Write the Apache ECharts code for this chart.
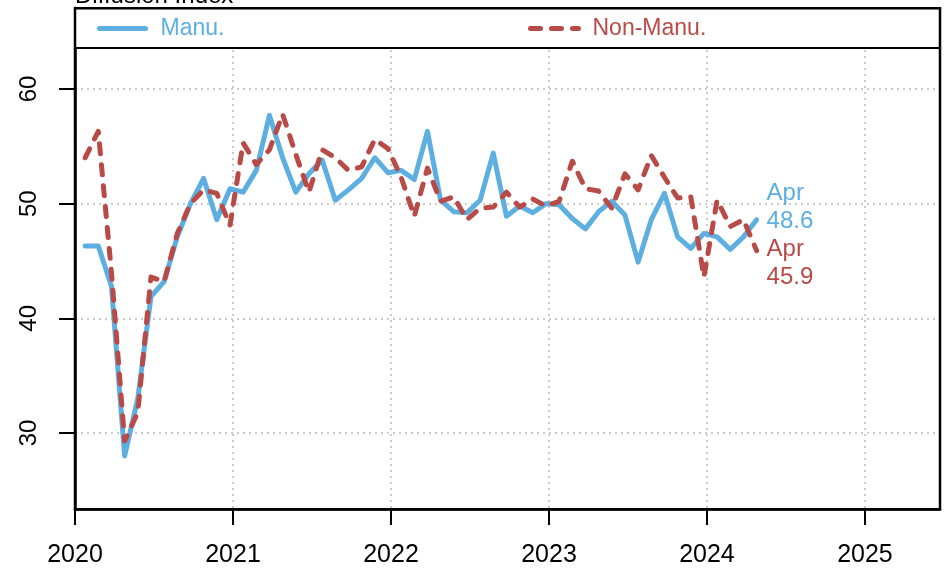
<!DOCTYPE html>
<html>
<head>
<meta charset="utf-8">
<script src="https://cdn.jsdelivr.net/npm/echarts@6/dist/echarts.min.js"></script>
<style>
    html, body { margin: 0; padding: 0; background: #fff; }
    #chart { width: 947px; height: 574px; }
</style>
</head>
<body>
<div id="chart"></div>
<script>
// monthly diffusion index, Jan 2020 - Apr 2024
var startYear = 2020;
var manu = [46.3, 46.3, 42.8, 28.0, 33.0, 41.9, 43.2, 47.1, 50.0, 52.2, 48.6, 51.3,
    51.0, 52.9, 57.7, 54.0, 51.0, 52.6, 53.8, 50.3, 51.2, 52.2, 54.0, 52.7,
    52.9, 52.1, 56.3, 50.3, 49.3, 49.2, 50.3, 54.4, 48.9, 49.8, 49.2, 50.0,
    49.9, 48.7, 47.8, 49.3, 50.2, 49.0, 44.9, 48.6, 50.9, 47.1, 46.1, 47.4,
    47.1, 46.0, 47.1, 48.6];
var nonManu = [54.0, 56.3, 44.0, 29.3, 31.8, 43.6, 43.2, 47.4, 50.0, 51.2, 50.9, 48.1,
    55.3, 53.4, 54.7, 57.8, 54.3, 51.0, 54.7, 54.0, 52.9, 53.2, 55.6, 54.8,
    52.3, 48.9, 53.1, 50.2, 50.6, 48.6, 49.6, 49.7, 51.0, 49.7, 50.4, 49.8,
    50.2, 53.7, 51.3, 51.1, 49.6, 52.6, 51.2, 54.2, 52.3, 50.5, 50.6, 43.6,
    50.3, 48.0, 48.6, 45.9];
var yTicks = [30, 40, 50, 60];
var monthNames = ['Jan', 'Feb', 'Mar', 'Apr', 'May', 'Jun', 'Jul', 'Aug', 'Sep', 'Oct', 'Nov', 'Dec'];

var blue = '#5DAEE1';
var red = '#B84A48';

// month i -> decimal year (points sit late in the month)
function toPairs(arr) {
    var res = [];
    for (var i = 0; i < arr.length; i++) {
        res.push([startYear + (i + 0.77) / 12, arr[i]]);
    }
    return res;
}
function lastLabel(params) {
    var n = manu.length - 1;
    return monthNames[n % 12] + '\n' + params.value[1].toFixed(1);
}

var chart = echarts.init(document.getElementById('chart'));
var fontFam = '"Liberation Sans", Arial, sans-serif';

option = {
    animation: false,
    backgroundColor: '#fff',
    textStyle: { fontFamily: fontFam },
    grid: {
        left: 75, right: 7, top: 8, bottom: 65,
        show: false
    },
    legend: [{
        left: 92, top: 12, z: 20,
        itemWidth: 46, itemHeight: 14,
        itemStyle: { opacity: 0 },
        lineStyle: { width: 5 },
        data: [{ name: 'Manu.', textStyle: { color: blue } }],
        textStyle: { fontSize: 23, fontFamily: fontFam, padding: [0, 0, 0, 10] }
    }, {
        left: 523, top: 12, z: 20,
        itemWidth: 48, itemHeight: 14,
        itemStyle: { opacity: 0 },
        lineStyle: { width: 5 },
        data: [{ name: 'Non-Manu.', textStyle: { color: red } }],
        textStyle: { fontSize: 23, fontFamily: fontFam, padding: [0, 0, 0, 9] }
    }],
    graphic: [{
        // legend strip across the top of the frame
        type: 'rect', z: 10,
        shape: { x: 75, y: 8, width: 865, height: 40 },
        style: { fill: '#fff', stroke: '#000', lineWidth: 2 }
    }, {
        // plot frame
        type: 'rect', z: 11, silent: true,
        shape: { x: 75, y: 8.3, width: 865, height: 501 },
        style: { fill: 'none', stroke: '#000', lineWidth: 2.5 }
    }, {
        type: 'text', z: 10,
        x: 75, y: 8,
        style: {
            text: 'Diffusion Index', fill: '#000',
            font: '24px "Liberation Sans", Arial, sans-serif',
            verticalAlign: 'bottom'
        }
    }],
    xAxis: {
        type: 'value',
        min: 2020, max: 2025.475, interval: 1,
        axisLine: { show: true, lineStyle: { color: '#000', width: 2.5 } },
        axisTick: { show: true, length: 16, lineStyle: { color: '#000', width: 2 } },
        axisLabel: {
            fontSize: 25, color: '#000', margin: 34,
            showMaxLabel: false,
            formatter: function (v) { return String(v); }
        },
        splitLine: { show: true, lineStyle: { color: '#BBBBBB', width: 1.5, type: [2, 4] } }
    },
    yAxis: {
        type: 'value',
        min: 23.37, max: 67.06,
        axisLine: { show: true, lineStyle: { color: '#000', width: 2.5 } },
        axisTick: { show: true, length: 16, customValues: yTicks, lineStyle: { color: '#000', width: 2 } },
        axisLabel: { fontSize: 24, color: '#000', margin: 34, rotate: 90, customValues: yTicks },
        splitLine: { show: true, lineStyle: { color: '#BBBBBB', width: 1.5, type: [2, 4] } }
    },
    series: [{
        name: 'Manu.',
        type: 'line',
        data: toPairs(manu),
        showSymbol: false,
        symbol: 'none',
        color: blue,
        lineStyle: { color: blue, width: 5, cap: 'round', join: 'round' },
        endLabel: {
            show: true, formatter: lastLabel, color: blue,
            fontSize: 24, lineHeight: 28, distance: 10, offset: [0, -12]
        },
        z: 3
    }, {
        name: 'Non-Manu.',
        type: 'line',
        data: toPairs(nonManu),
        showSymbol: false,
        symbol: 'none',
        color: red,
        lineStyle: { color: red, width: 5, type: [10, 11], cap: 'round', join: 'round' },
        endLabel: {
            show: true, formatter: lastLabel, color: red,
            fontSize: 24, lineHeight: 28, distance: 10, offset: [0, 13]
        },
        z: 4
    }]
};

chart.setOption(option);
</script>
</body>
</html>
